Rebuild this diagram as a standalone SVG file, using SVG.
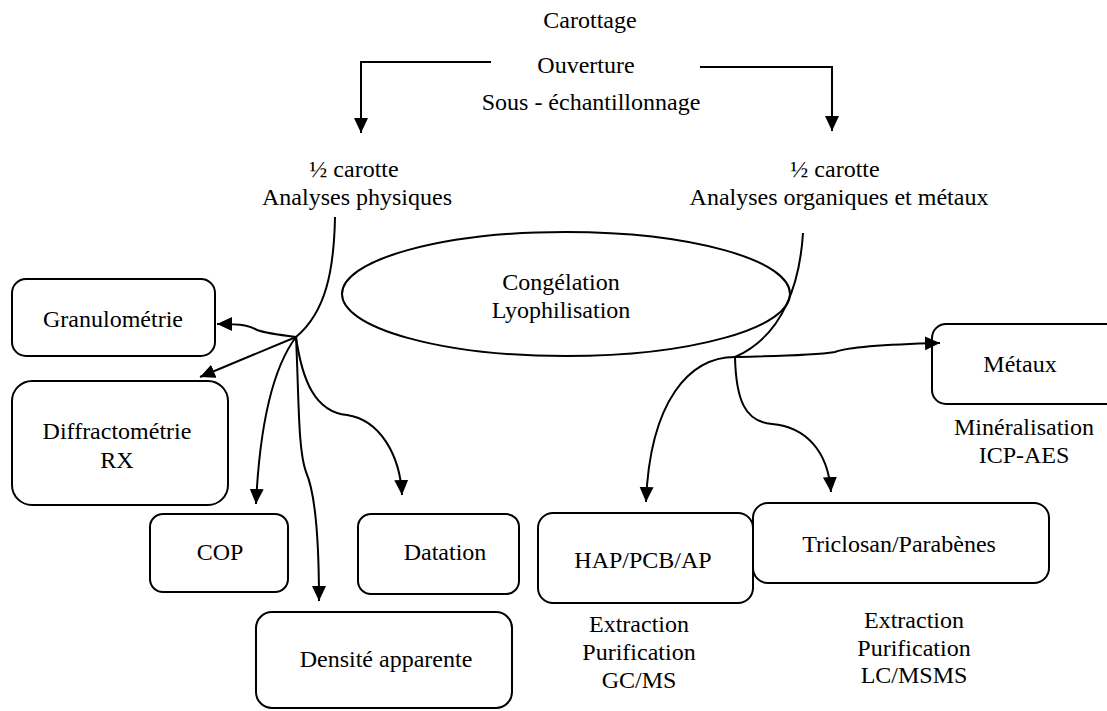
<svg xmlns="http://www.w3.org/2000/svg" width="1107" height="711" viewBox="0 0 1107 711">
<style>
text{font-family:"Liberation Serif","Times New Roman",serif;font-size:24px;fill:#000;text-anchor:middle}
.box{fill:#fff;stroke:#000;stroke-width:2}
.ln{fill:none;stroke:#000;stroke-width:2}
</style>
<defs>
<marker id="ah" markerUnits="userSpaceOnUse" markerWidth="16" markerHeight="16" refX="15" refY="7" orient="auto">
<path d="M0,0 L15,7 L0,14 z" fill="#000"/>
</marker>
</defs>
<rect width="1107" height="711" fill="#fff"/>
<g id="top">
<text x="590" y="28">Carottage</text>
<text x="586" y="73">Ouverture</text>
<text x="591" y="110">Sous - échantillonnage</text>
</g>
<g id="left-half">
<text x="354" y="177">½ carotte</text>
<text x="357" y="205">Analyses physiques</text>
</g>
<g id="right-half">
<text x="835" y="177">½ carotte</text>
<text x="839" y="205">Analyses organiques et métaux</text>
</g>
<g id="freeze">
<ellipse class="box" cx="566" cy="294" rx="224" ry="62"/>
<text x="561" y="290">Congélation</text>
<text x="561" y="318">Lyophilisation</text>
</g>
<g id="granulometrie">
<rect class="box" x="12" y="279" width="203" height="77" rx="14"/>
<text x="113" y="327">Granulométrie</text>
</g>
<g id="diffractometrie">
<rect class="box" x="12" y="381" width="216" height="124" rx="20"/>
<text x="117" y="439">Diffractométrie</text>
<text x="117" y="468">RX</text>
</g>
<g id="cop">
<rect class="box" x="150" y="514" width="138" height="78" rx="13"/>
<text x="220" y="560">COP</text>
</g>
<g id="datation">
<rect class="box" x="358" y="514" width="161" height="80" rx="13"/>
<text x="445" y="560">Datation</text>
</g>
<g id="densite">
<rect class="box" x="256" y="612" width="256" height="96" rx="16"/>
<text x="386" y="667">Densité apparente</text>
</g>
<g id="hap">
<rect class="box" x="538" y="513" width="215" height="90" rx="15"/>
<text x="643" y="568">HAP/PCB/AP</text>
<text x="639" y="632">Extraction</text>
<text x="639" y="660">Purification</text>
<text x="639" y="688">GC/MS</text>
</g>
<g id="triclosan">
<rect class="box" x="753" y="503" width="296" height="80" rx="15"/>
<text x="899" y="552">Triclosan/Parabènes</text>
<text x="914" y="628">Extraction</text>
<text x="914" y="656">Purification</text>
<text x="914" y="683">LC/MSMS</text>
</g>
<g id="metaux">
<rect class="box" x="932" y="324" width="190" height="80" rx="14"/>
<text x="1020" y="372">Métaux</text>
<text x="1024" y="435">Minéralisation</text>
<text x="1024" y="463">ICP-AES</text>
</g>
<g id="connectors">
<path class="ln" d="M491,62 H361 V133" marker-end="url(#ah)"/>
<path class="ln" d="M700,67 H832 V131" marker-end="url(#ah)"/>
<path class="ln" d="M335,217 C334,270 326,312 296,337"/>
<path class="ln" d="M296,337 C280,335 265,333 257,330 C250,326 245,324 217,324" marker-end="url(#ah)"/>
<path class="ln" d="M296,337 L200,377" marker-end="url(#ah)"/>
<path class="ln" d="M296,337 C275,365 260,420 256,504" marker-end="url(#ah)"/>
<path class="ln" d="M296,337 C299,400 298,450 306,472 C314,490 319,530 319,601" marker-end="url(#ah)"/>
<path class="ln" d="M296,337 C302,380 315,412 347,415 C380,420 400,455 402,495" marker-end="url(#ah)"/>
<path class="ln" d="M803,233 C800,280 785,335 735,357"/>
<path class="ln" d="M735,357 C770,356 810,356 835,352 C850,346 900,344 940,343" marker-end="url(#ah)"/>
<path class="ln" d="M735,357 C690,357 650,400 646,502" marker-end="url(#ah)"/>
<path class="ln" d="M735,357 C736,400 745,422 772,424 C805,427 828,450 831,492" marker-end="url(#ah)"/>
</g>
</svg>
